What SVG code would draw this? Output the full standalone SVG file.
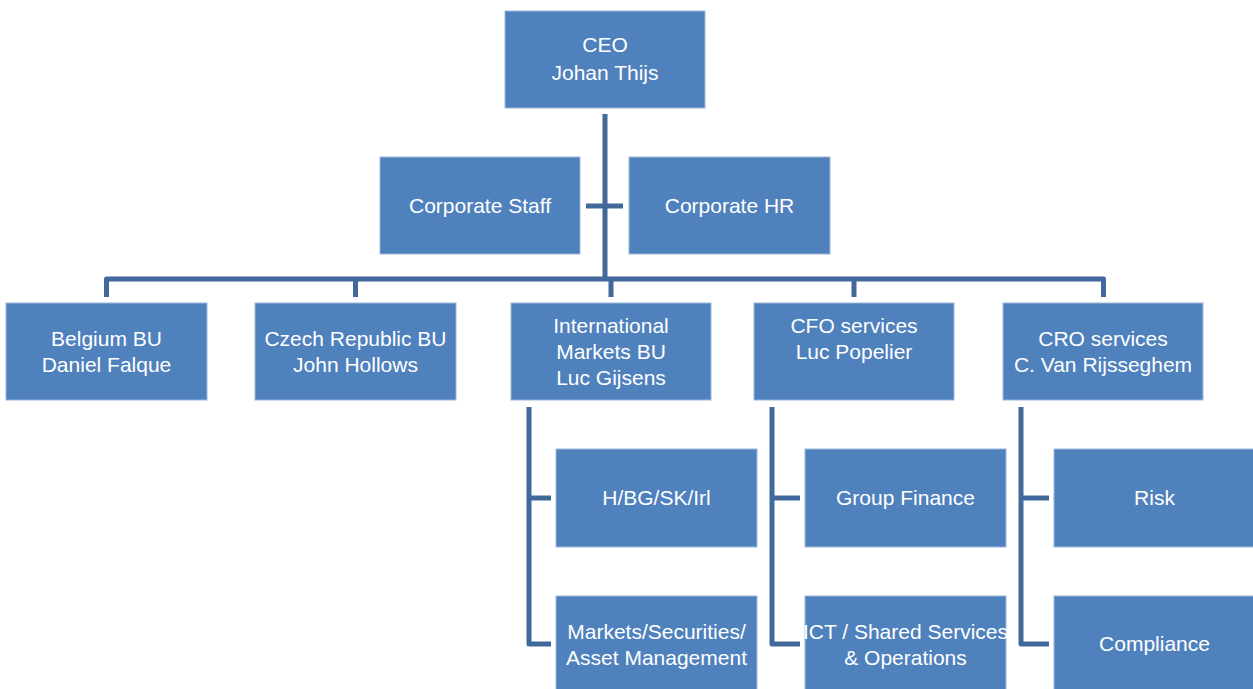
<svg xmlns="http://www.w3.org/2000/svg" width="1253" height="689" viewBox="0 0 1253 689">
<style>
.box{fill:#4F81BD;stroke:#9DB7DA;stroke-width:1}
.t{font-family:"Liberation Sans",Arial,sans-serif;font-size:21px;fill:#FFFFFF;text-anchor:middle}
.c{fill:none;stroke:#41699C;stroke-width:5;stroke-linejoin:round}
</style>
<rect width="1253" height="689" fill="#FFFFFF"/>
<g id="connectors">
<path class="c" d="M605 114 V279"/>
<path class="c" d="M586 206 H623"/>
<path class="c" d="M106.5 297 V279 H1103.5 V297"/>
<path class="c" d="M355.5 279 V297"/>
<path class="c" d="M611 279 V297"/>
<path class="c" d="M854 279 V297"/>
<path class="c" d="M529 407 V644 H551"/>
<path class="c" d="M529 498 H551"/>
<path class="c" d="M772 407 V644 H800"/>
<path class="c" d="M772 498 H800"/>
<path class="c" d="M1021 407 V644 H1049"/>
<path class="c" d="M1021 498 H1049"/>
</g>
<g id="ceo"><rect class="box" x="505" y="11" width="200" height="97"/><text class="t" x="605" y="52">CEO</text><text class="t" x="605" y="80">Johan Thijs</text></g>
<g id="corporate-staff"><rect class="box" x="380" y="157" width="200" height="97"/><text class="t" x="480" y="213">Corporate Staff</text></g>
<g id="corporate-hr"><rect class="box" x="629" y="157" width="201" height="97"/><text class="t" x="729.5" y="213">Corporate HR</text></g>
<g id="belgium"><rect class="box" x="6" y="303" width="201" height="97"/><text class="t" x="106.5" y="346">Belgium BU</text><text class="t" x="106.5" y="372">Daniel Falque</text></g>
<g id="czech"><rect class="box" x="255" y="303" width="201" height="97"/><text class="t" x="355.5" y="346">Czech Republic BU</text><text class="t" x="355.5" y="372">John Hollows</text></g>
<g id="international"><rect class="box" x="511" y="303" width="200" height="97"/><text class="t" x="611" y="333">International</text><text class="t" x="611" y="359">Markets BU</text><text class="t" x="611" y="385">Luc Gijsens</text></g>
<g id="cfo"><rect class="box" x="754" y="303" width="200" height="97"/><text class="t" x="854" y="333">CFO services</text><text class="t" x="854" y="359">Luc Popelier</text></g>
<g id="cro"><rect class="box" x="1003" y="303" width="200" height="97"/><text class="t" x="1103" y="346">CRO services</text><text class="t" x="1103" y="372">C. Van Rijsseghem</text></g>
<g id="hbgskirl"><rect class="box" x="556" y="449" width="201" height="98"/><text class="t" x="656.5" y="505">H/BG/SK/Irl</text></g>
<g id="markets"><rect class="box" x="556" y="596" width="201" height="98"/><text class="t" x="656.5" y="639">Markets/Securities/</text><text class="t" x="656.5" y="665">Asset Management</text></g>
<g id="group-finance"><rect class="box" x="805" y="449" width="201" height="98"/><text class="t" x="905.5" y="505">Group Finance</text></g>
<g id="ict"><rect class="box" x="805" y="596" width="201" height="98"/><text class="t" x="905.5" y="639">ICT / Shared Services</text><text class="t" x="905.5" y="665">&amp; Operations</text></g>
<g id="risk"><rect class="box" x="1054" y="449" width="201" height="98"/><text class="t" x="1154.5" y="505">Risk</text></g>
<g id="compliance"><rect class="box" x="1054" y="596" width="201" height="98"/><text class="t" x="1154.5" y="651">Compliance</text></g>
</svg>
